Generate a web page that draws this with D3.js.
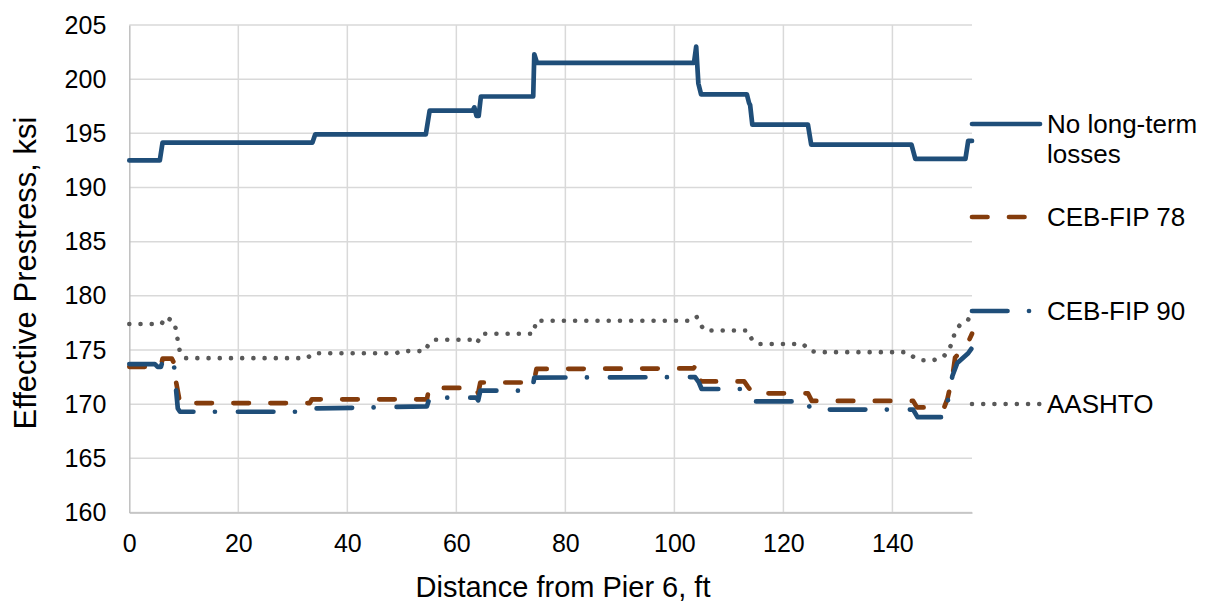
<!DOCTYPE html>
<html>
<head>
<meta charset="utf-8">
<script src="https://cdn.jsdelivr.net/npm/d3@7"></script>
<style>
  body { margin: 0; background: #fff; }
  svg text { font-family: "Liberation Sans", Arial, sans-serif; fill: #000; }
</style>
</head>
<body>
<svg id="chart"></svg>
<script>
// [distance ft, prestress ksi]
const noLoss = [[0,192.5],[5.6,192.5],[6.1,194.15],[33.6,194.15],[34.1,194.9],[54.4,194.9],[55.1,197.1],[63.0,197.1],[63.3,197.4],[63.7,196.6],[64.1,196.6],[64.5,198.4],[74.1,198.4],[74.3,202.3],[74.8,201.5],[103.6,201.5],[104.0,203.0],[104.4,199.6],[104.9,198.6],[113.3,198.6],[113.7,197.8],[113.9,197.6],[114.3,195.8],[124.5,195.8],[125.1,193.95],[143.5,193.95],[144.2,192.65],[153.4,192.65],[153.9,194.3],[154.6,194.3]];
const cebFip78 = [[0,173.45],[5.8,173.45],[6.1,174.2],[7.8,174.2],[8.2,173.8],[8.6,172.0],[9.3,170.1],[33.1,170.1],[33.5,170.45],[54.6,170.45],[55.0,171.5],[63.6,171.5],[64.0,171.0],[64.4,172.0],[74.2,172.0],[74.7,173.25],[103.5,173.3],[104.1,173.7],[104.9,172.1],[112.8,172.1],[113.5,171.6],[114.4,171.0],[124.5,171.0],[125.2,170.3],[143.8,170.3],[144.5,169.7],[149.5,169.7],[150.1,170.5],[151.0,172.5],[151.5,174.3],[153.6,175.4],[154.6,176.5]];
const cebFip90 = [[0,173.7],[4.7,173.7],[5.2,173.45],[5.8,173.45],[6.2,174.1],[7.8,174.1],[8.2,173.6],[8.5,171.8],[8.9,169.6],[9.3,169.3],[33.5,169.3],[34.1,169.6],[54.6,169.8],[55.1,170.6],[63.7,170.6],[64.0,170.35],[64.4,171.25],[73.9,171.25],[74.3,172.45],[103.8,172.5],[104.5,172.0],[105.0,171.4],[113.0,171.4],[113.7,170.8],[114.5,170.25],[124.5,170.25],[124.9,169.5],[143.8,169.5],[144.6,168.8],[149.7,168.8],[150.2,170.4],[151.0,172.6],[151.9,173.8],[153.9,174.7],[154.6,175.2]];
const aashto = [[0,177.4],[5.9,177.4],[6.7,178.05],[8.2,177.6],[8.7,176.6],[8.9,175.8],[9.3,174.8],[10.3,174.25],[32.6,174.25],[33.8,174.7],[49.0,174.7],[49.8,174.9],[54.3,174.9],[54.9,175.55],[56.1,175.95],[63.2,175.95],[63.8,175.65],[64.7,176.5],[74.2,176.5],[74.6,177.7],[103.4,177.7],[104.1,178.05],[104.6,177.45],[105.6,176.8],[113.4,176.8],[114.3,175.9],[115.5,175.55],[123.6,175.55],[124.9,174.9],[126.4,174.8],[142.7,174.8],[143.9,174.35],[145.4,174.05],[147.4,174.05],[149.2,174.3],[150.3,174.9],[151.0,175.8],[151.5,176.7],[152.5,177.4],[153.9,177.8],[154.6,178.5]];

const seriesNames = ["No long-term|losses", "CEB-FIP 78", "CEB-FIP 90", "AASHTO"];
const xTicks = [0, 20, 40, 60, 80, 100, 120, 140];
const yTicks = [160, 165, 170, 175, 180, 185, 190, 195, 200, 205];

const W = 1210, H = 610;
const m = {left: 129.3, right: 238, top: 25, bottom: 97.5};

const series = [
  {name: seriesNames[0], data: noLoss,   color: "#1F4E79", width: 4.7, dash: null},
  {name: seriesNames[1], data: cebFip78, color: "#843C0C", width: 4.7, dash: "15.5,21.5"},
  {name: seriesNames[2], data: cebFip90, color: "#1F4E79", width: 4.7, dash: "35.5,21.5,0.01,23"},
  {name: seriesNames[3], data: aashto,   color: "#595959", width: 4.6, dash: "0.01,11.2"}
];

const svg = d3.select("#chart")
  .attr("width", W)
  .attr("height", H)
  .attr("viewBox", [0, 0, W, H]);

const x = d3.scaleLinear().domain([0, 154.6]).range([m.left, W - m.right]);
const y = d3.scaleLinear().domain([160, 205]).range([H - m.bottom, m.top]);

// grid
svg.append("g")
  .selectAll("line.h")
  .data(yTicks)
  .join("line")
  .attr("x1", x(0)).attr("x2", x(154.6))
  .attr("y1", d => y(d)).attr("y2", d => y(d))
  .style("stroke", "#D9D9D9").style("stroke-width", 1.5);

svg.append("g")
  .selectAll("line.v")
  .data(xTicks.slice(1))
  .join("line")
  .attr("x1", d => x(d)).attr("x2", d => x(d))
  .attr("y1", y(160)).attr("y2", y(205))
  .style("stroke", "#D9D9D9").style("stroke-width", 1.5);

// axes
const xAxis = svg.append("g")
  .attr("transform", `translate(0,${y(160)})`)
  .call(d3.axisBottom(x).tickValues(xTicks).tickSize(0).tickPadding(22));
xAxis.select(".domain").style("stroke", "#BFBFBF").style("stroke-width", 1.5);
xAxis.selectAll("text").style("font-size", "25px");

const yAxis = svg.append("g")
  .attr("transform", `translate(${x(0)},0)`)
  .call(d3.axisLeft(y).tickValues(yTicks).tickSize(0).tickPadding(23));
yAxis.select(".domain").style("stroke", "#BFBFBF").style("stroke-width", 1.5);
yAxis.selectAll("text").style("font-size", "25px");

svg.append("text")
  .attr("x", 563).attr("y", 597)
  .attr("text-anchor", "middle")
  .style("font-size", "29px")
  .text("Distance from Pier 6, ft");

svg.append("text")
  .attr("transform", "translate(36,273) rotate(-90)")
  .attr("text-anchor", "middle")
  .style("font-size", "31px")
  .text("Effective Prestress, ksi");

// series
const line = d3.line()
  .x(d => x(d[0]))
  .y(d => y(d[1]));

const g = svg.append("g");
series.forEach(s => {
  g.append("path")
    .datum(s.data)
    .attr("d", line)
    .style("fill", "none")
    .style("stroke", s.color)
    .style("stroke-width", s.width)
    .style("stroke-linecap", "round")
    .style("stroke-linejoin", "round")
    .style("stroke-dasharray", s.dash);
});

// legend
const legendY = [124, 217, 311, 404];
const lg = svg.append("g");
series.forEach((s, i) => {
  lg.append("line")
    .attr("x1", 972).attr("x2", 1040)
    .attr("y1", legendY[i]).attr("y2", legendY[i])
    .style("stroke", s.color)
    .style("stroke-width", s.width)
    .style("stroke-linecap", "round")
    .style("stroke-dasharray", s.dash);
  const t = lg.append("text")
    .attr("x", 1047).attr("y", legendY[i])
    .style("font-size", "26px");
  s.name.split("|").forEach((part, j) => {
    t.append("tspan")
      .attr("x", 1047)
      .attr("dy", j === 0 ? "0.35em" : "1.15em")
      .text(part);
  });
});
</script>
</body>
</html>
